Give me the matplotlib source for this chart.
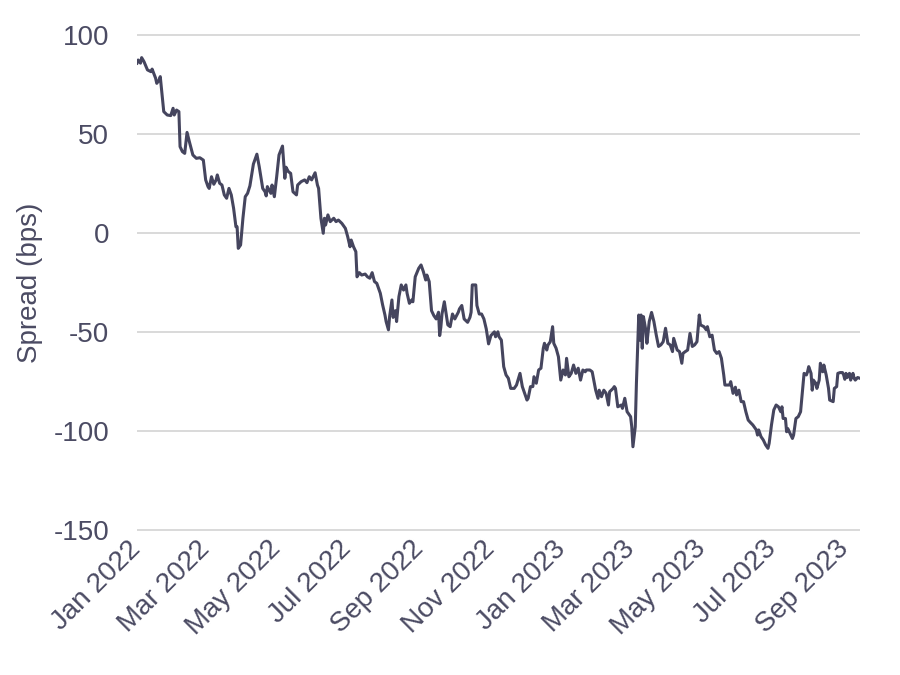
import pandas as pd
import matplotlib
matplotlib.use("Agg")
import matplotlib.pyplot as plt
import matplotlib.dates as mdates

plt.rcParams['font.family'] = ['Liberation Sans', 'DejaVu Sans']
plt.rcParams['axes.unicode_minus'] = False

# days since 2022-01-01
start_date = "2022-01-01"
day_offsets = [
    0, 1, 3, 4, 6, 9, 12, 13, 16, 17,
    19, 20, 23, 26, 29, 31, 32, 34, 36, 37,
    39, 41, 43, 45, 48, 51, 54, 57, 59, 61,
    62, 64, 66, 68, 69, 71, 73, 75, 77, 79,
    81, 83, 85, 86, 87, 89, 91, 93, 95, 97,
    100, 103, 105, 108, 110, 111, 112, 115, 116, 118,
    120, 122, 125, 127, 128, 130, 132, 134, 137, 138,
    141, 144, 146, 148, 150, 153, 155, 156, 158, 160,
    161, 162, 164, 166, 169, 171, 173, 176, 179, 181,
    183, 184, 186, 188, 189, 191, 193, 196, 198, 200,
    202, 204, 206, 209, 211, 213, 214, 216, 217, 219,
    220, 222, 223, 225, 227, 229, 231, 232, 234, 236,
    237, 239, 242, 244, 246, 248, 249, 251, 253, 255,
    257, 259, 260, 261, 262, 264, 267, 269, 271, 273,
    276, 277, 279, 281, 284, 286, 287, 288, 291, 292,
    294, 296, 298, 300, 302, 304, 307, 308, 310, 311,
    313, 315, 317, 319, 321, 324, 326, 329, 331, 333,
    335, 336, 338, 340, 341, 343, 345, 347, 349, 350,
    352, 353, 355, 357, 358, 360, 362, 364, 366, 368,
    369, 371, 373, 375, 377, 379, 381, 383, 385, 386,
    389, 391, 394, 396, 397, 399, 401, 403, 405, 406,
    409, 410, 411, 413, 416, 417, 419, 421, 422, 424,
    425, 426, 428, 429, 431, 432, 433, 434, 435, 437,
    438, 440, 442, 444, 446, 448, 450, 452, 454, 456,
    458, 460, 461, 464, 466, 468, 469, 471, 473, 475,
    477, 479, 481, 483, 484, 487, 489, 490, 492, 494,
    496, 498, 500, 502, 504, 505, 507, 509, 510, 512,
    514, 515, 517, 519, 521, 523, 525, 527, 529, 532,
    533, 534, 536, 538, 540, 542, 543, 545, 547, 549,
    551, 553, 554, 555, 557, 558, 559, 561, 563, 564,
    566, 568, 570, 572, 573, 575, 576, 577, 579, 580,
    581, 583, 584, 586, 587, 589, 590, 592, 594, 595,
    598, 599, 601, 602, 604, 606, 607, 608, 609, 610,
    612, 613, 615, 616, 617, 619, 621,
]

# spread in bps
spread = [
    86, 87.6, 86, 88.8, 86.8, 82.6, 81.7, 83, 78.4, 75.8,
    77.5, 79.2, 61.5, 59.8, 59.5, 63.2, 59.8, 62.3, 61.5, 43.8,
    41.3, 40.4, 51, 46.3, 39.6, 37.9, 38.2, 37, 27, 23.6,
    22.7, 28.6, 24.8, 27, 29.5, 25.3, 24.4, 19.4, 17.7, 22.7,
    19.4, 12.6, 3.3, 3.3, -7.6, -5.9, 7.6, 18.5, 20.2, 24,
    35, 40, 33.7, 22.7, 21, 18.9, 23.6, 20.2, 24.4, 18.5,
    28.6, 39.6, 44.1, 27.8, 33.4, 31.2, 30.3, 21, 19.4, 24.4,
    26.1, 27, 25.6, 28.6, 27, 30.6, 24.4, 22.7, 7.6, 0,
    7.6, 4.2, 9.3, 5.9, 7.6, 5.9, 6.7, 5, 2.5, -1.7,
    -6.8, -3.4, -6.8, -9.3, -22, -19.9, -21.1, -20.6, -22, -22.7,
    -19.9, -24.4, -25.3, -30.3, -36.2, -41.3, -44.6, -48.8, -42.1, -33.7,
    -42.5, -39.1, -44.6, -32, -26.1, -28.7, -26.1, -30.3, -35.4, -33.7,
    -34.6, -22, -17.7, -16, -19.4, -23.6, -21.1, -24.4, -39.1, -41.6,
    -43.3, -39.9, -51.7, -47.5, -40.8, -34.6, -46.3, -47.2, -40.8, -43.3,
    -39.9, -38.2, -36.5, -43.3, -45, -42.5, -39.9, -26.1, -26.1, -36.5,
    -40.8, -40.8, -43.3, -48.3, -55.9, -51.7, -49.8, -52.3, -49.8, -52.3,
    -54, -67.4, -71.6, -73.3, -78.4, -78.4, -76.7, -70.8, -77.5, -80.9,
    -84.3, -83.4, -77.5, -77.5, -72.5, -75.8, -69.1, -68.2, -58.1, -55.6,
    -59, -56.5, -54.8, -47.2, -55.6, -58.1, -62.4, -74.2, -69.1, -71.6,
    -63.2, -72.5, -70.8, -66.6, -70.8, -68.2, -74.2, -69.1, -70, -69.1,
    -69.1, -70, -79.3, -83.4, -79.3, -82.6, -79.3, -80.9, -86.8, -80.1,
    -78.4, -77.5, -78.4, -87.7, -86.8, -88.5, -83.4, -90.2, -91, -92.7,
    -97.8, -107.9, -97.8, -75.8, -41.3, -54, -41.3, -58.1, -42.1, -48.8,
    -55.6, -44.6, -40, -44.6, -51.3, -57.2, -56.4, -54.8, -48, -55.6,
    -56.4, -59.8, -53.1, -59, -59.8, -65.7, -60.7, -59.8, -59, -50.6,
    -57.2, -56.4, -54.8, -41.3, -46.3, -47.2, -48.8, -47.2, -52.3, -51.5,
    -59, -60.7, -59.8, -63.2, -71.6, -76.7, -76.7, -76.7, -75, -80.9,
    -77.8, -81.7, -79.3, -85.1, -85.1, -90.2, -94.4, -95.7, -96.9, -99.4,
    -102, -99.4, -102.8, -104.5, -107, -108.7, -106.2, -96.9, -89.3, -86.8,
    -87.7, -90.2, -87.7, -93.6, -93.6, -100.3, -98.7, -101.2, -103.7, -102,
    -93.6, -92.7, -90.2, -77.5, -70.8, -71.6, -70, -67.4, -70.8, -79.3,
    -74.2, -75.8, -78.4, -74.2, -65.7, -70, -66.6, -71.6, -78.4, -84.3,
    -85.1, -78.4, -77.5, -70.8, -70.4, -70.4, -71.6, -73.8, -70.8, -72.9,
    -70.8, -74.2, -70.8, -73.3, -74.2, -72.9, -73.3,
]

y_ticks = [-150, -100, -50, 0, 50, 100]

assert len(day_offsets) == len(spread)
dates = pd.Timestamp(start_date) + pd.to_timedelta(day_offsets, unit="D")

text_color = "#4b4b63"
line_color = "#45455e"
grid_color = "#d9d9d9"

fig = plt.figure(figsize=(9, 6.75), dpi=100)
ax = fig.add_axes([0.1522, 0.2089, 0.8033, 0.7444])

ax.plot(dates, spread, color=line_color, linewidth=2.2, solid_joinstyle="round", zorder=3)

ax.set_xlim(dates[0], dates[-1])
ax.set_ylim(-152, 102)
ax.set_yticks(y_ticks)
ax.grid(axis="y", color=grid_color, linewidth=1.4, zorder=0)
ax.grid(axis="x", visible=False)
for s in ax.spines.values():
    s.set_visible(False)

ax.xaxis.set_major_locator(mdates.MonthLocator(bymonth=[1, 3, 5, 7, 9, 11]))
ax.xaxis.set_major_formatter(mdates.DateFormatter("%b %Y"))
ax.tick_params(axis="both", length=0, labelsize=20, labelcolor=text_color)
ax.tick_params(axis="y", pad=20)
ax.tick_params(axis="x", pad=8)
for lbl in ax.get_xticklabels():
    lbl.set_rotation(45)
    lbl.set_ha("right")
    lbl.set_va("center")
    lbl.set_rotation_mode("anchor")

ax.set_ylabel("Spread (bps)", fontsize=20, color=text_color)
ax.yaxis.set_label_coords(-0.130, 0.5)

fig.savefig("out.png", dpi=100)
